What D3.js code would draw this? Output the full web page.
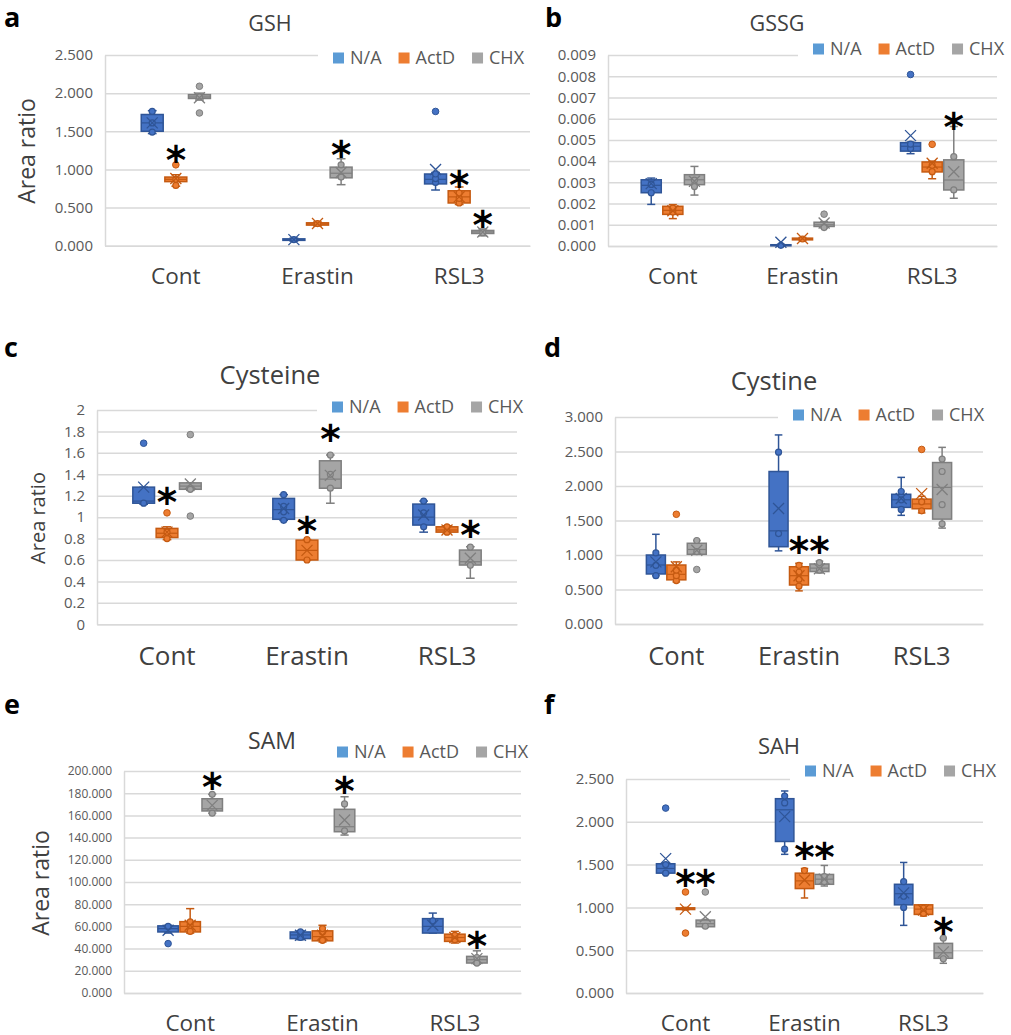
<!DOCTYPE html>
<html><head><meta charset="utf-8">
<script src="https://cdn.jsdelivr.net/npm/d3@7"></script>
<style>body{margin:0;background:#fff} svg{display:block}</style>
</head><body><svg id="chart" width="1011" height="1035"></svg>
<script>
const categories = ["Cont", "Erastin", "RSL3"];
const seriesNames = ["N/A", "ActD", "CHX"];
const yAxisTitle = "Area ratio";

// Box rows: [category index, series index, whisker low, Q1, median, Q3, whisker high, mean]
// Point rows: [category index, series index, value]
const gshStats = [
  [0,0,1.47,1.50,1.61,1.72,1.77,1.61],[0,1,0.78,0.84,0.87,0.90,0.93,0.88],[0,2,1.91,1.93,1.95,1.98,2.00,1.94],
  [1,0,0.06,0.07,0.08,0.09,0.10,0.08],[1,1,0.26,0.27,0.285,0.30,0.31,0.29],[1,2,0.80,0.89,0.95,1.03,1.14,0.96],
  [2,0,0.73,0.81,0.87,0.94,0.96,1.00],[2,1,0.54,0.56,0.64,0.72,0.77,0.64],[2,2,0.13,0.16,0.18,0.20,0.22,0.18]];
const gshInner = [[0,0,1.49],[0,0,1.61],[0,0,1.76],[0,1,0.79],[0,1,0.87],[0,2,1.95],[1,0,0.08],[1,1,0.29],
  [1,2,0.90],[1,2,1.06],[2,0,0.83],[2,0,0.88],[2,0,0.94],[2,1,0.56],[2,1,0.62],[2,1,0.69],[2,2,0.17]];
const gshOutliers = [[0,1,1.06],[0,2,2.09],[0,2,1.74],[2,0,1.76]];
const gshStars = [[0,1,1.23],[1,2,1.29],[2,1,0.90],[2,2,0.37]];
const gshTicks = [0, 0.5, 1, 1.5, 2, 2.5];
const gshTickLabels = ["0.000","0.500","1.000","1.500","2.000","2.500"];

const gssgStats = [
  [0,0,0.00196,0.00251,0.00286,0.00312,0.00320,0.00294],[0,1,0.00129,0.00149,0.00168,0.00187,0.00195,0.00166],[0,2,0.00240,0.00289,0.00312,0.00336,0.00375,0.00305],
  [1,0,0.00000,0.00001,0.00003,0.00006,0.00008,0.00018],[1,1,0.00026,0.00029,0.00033,0.00037,0.00040,0.00035],[1,2,0.00085,0.00092,0.00100,0.00112,0.00115,0.00108],
  [2,0,0.00435,0.00447,0.00470,0.00487,0.00490,0.00520],[2,1,0.00317,0.00349,0.00372,0.00396,0.00400,0.00390],[2,2,0.00225,0.00264,0.00311,0.00406,0.00563,0.00350]];
const gssgInner = [[0,0,0.00251],[0,0,0.00290],[0,1,0.00160],[0,1,0.00178],[0,2,0.00280],[0,2,0.00310],[1,0,0.00003],
  [1,1,0.00033],[1,2,0.00087],[2,0,0.00460],[2,0,0.00480],[2,1,0.00350],[2,1,0.00380],[2,2,0.00264],[2,2,0.00421]];
const gssgOutliers = [[1,2,0.00150],[2,0,0.00808],[2,1,0.00479]];
const gssgStars = [[2,2,0.0060]];
const gssgTicks = [0,0.001,0.002,0.003,0.004,0.005,0.006,0.007,0.008,0.009];
const gssgTickLabels = ["0.000","0.001","0.002","0.003","0.004","0.005","0.006","0.007","0.008","0.009"];

const cysteineStats = [
  [0,0,1.12,1.13,1.15,1.28,1.28,1.28],[0,1,0.79,0.81,0.85,0.895,0.91,0.86],[0,2,1.25,1.26,1.29,1.32,1.32,1.31],
  [1,0,0.97,0.98,1.07,1.175,1.21,1.08],[1,1,0.60,0.60,0.69,0.786,0.79,0.69],[1,2,1.13,1.27,1.355,1.526,1.58,1.39],
  [2,0,0.86,0.926,1.00,1.122,1.15,1.02],[2,1,0.85,0.86,0.88,0.91,0.92,0.88],[2,2,0.43,0.553,0.584,0.693,0.724,0.616]];
const cysteineInner = [[0,0,1.13],[0,1,0.80],[0,1,0.86],[0,2,1.26],[1,0,0.97],[1,0,1.05],[1,0,1.10],[1,0,1.21],
  [1,1,0.60],[1,1,0.79],[1,2,1.27],[1,2,1.40],[1,2,1.58],[2,0,0.91],[2,0,1.04],[2,0,1.15],[2,1,0.86],[2,1,0.91],[2,2,0.55],[2,2,0.72]];
const cysteineOutliers = [[0,0,1.69],[0,1,1.04],[0,2,1.77],[0,2,1.01]];
const cysteineStars = [[0,1,1.21],[1,1,0.94],[1,2,1.80],[2,2,0.91]];
const cysteineTicks = [0,0.2,0.4,0.6,0.8,1,1.2,1.4,1.6,1.8,2];
const cysteineTickLabels = ["0","0.2","0.4","0.6","0.8","1","1.2","1.4","1.6","1.8","2"];

const cystineStats = [
  [0,0,0.70,0.725,0.855,1.00,1.30,0.90],[0,1,0.61,0.64,0.72,0.855,0.90,0.83],[0,2,1.01,1.01,1.08,1.17,1.21,1.07],
  [1,0,1.06,1.12,1.35,2.21,2.74,1.675],[1,1,0.48,0.565,0.70,0.83,0.88,0.70],[1,2,0.74,0.76,0.81,0.87,0.91,0.80],
  [2,0,1.575,1.69,1.80,1.88,2.125,1.82],[2,1,1.61,1.67,1.74,1.81,1.85,1.89],[2,2,1.39,1.52,1.98,2.34,2.56,1.95]];
const cystineInner = [[0,0,0.70],[0,0,0.85],[0,0,1.03],[0,1,0.63],[0,1,0.70],[0,1,0.78],[0,2,1.05],[0,2,1.21],
  [1,0,1.31],[1,0,2.49],[1,1,0.55],[1,1,0.65],[1,1,0.75],[1,1,0.85],[1,2,0.78],[1,2,0.89],[2,0,1.66],[2,0,1.80],[2,0,1.92],
  [2,1,1.64],[2,1,1.77],[2,2,1.45],[2,2,1.73],[2,2,2.21],[2,2,2.39]];
const cystineOutliers = [[0,1,1.59],[0,2,0.79],[2,1,2.53]];
const cystineStars = [[1,1,1.17],[1,2,1.17]];
const cystineTicks = [0,0.5,1,1.5,2,2.5,3];
const cystineTickLabels = ["0.000","0.500","1.000","1.500","2.000","2.500","3.000"];

const samStats = [
  [0,0,54,55,58,60.5,61,56.5],[0,1,54,55,60,64.3,76,61],[0,2,162,164,166,175,179,169],
  [1,0,48,49,52.3,55,56,52],[1,1,46,47,50.8,56,61,52],[1,2,142.3,145.3,149.8,165.5,176.8,155.9],
  [2,0,54,54,60,67,72,61],[2,1,45,46.5,50,53,55.5,50],[2,2,26,27,30,33,38,31]];
const samInner = [[0,0,60],[0,1,55.5],[0,1,61],[0,1,64],[0,2,162],[0,2,179],[1,0,50],[1,0,55],[1,1,47.5],[1,1,55],[1,1,58],
  [1,2,146],[1,2,170.3],[2,0,65],[2,1,48],[2,1,52],[2,2,27],[2,2,32]];
const samOutliers = [[0,0,44.5]];
const samStars = [[0,2,193],[1,2,189],[2,2,49.3]];
const samTicks = [0,20,40,60,80,100,120,140,160,180,200];
const samTickLabels = ["0.000","20.000","40.000","60.000","80.000","100.000","120.000","140.000","160.000","180.000","200.000"];

const sahStats = [
  [0,0,1.39,1.40,1.455,1.51,1.52,1.57],[0,1,0.97,0.975,0.985,0.995,1.00,0.98],[0,2,0.77,0.774,0.81,0.852,0.86,0.89],
  [1,0,1.62,1.77,2.14,2.27,2.36,2.06],[1,1,1.11,1.22,1.31,1.40,1.455,1.32],[1,2,1.25,1.27,1.33,1.385,1.49,1.33],
  [2,0,0.79,1.03,1.16,1.27,1.525,1.17],[2,1,0.90,0.918,0.98,1.03,1.03,0.97],[2,2,0.347,0.405,0.47,0.58,0.64,0.48]];
const sahInner = [[0,0,1.40],[0,0,1.50],[0,2,0.78],[1,0,1.68],[1,0,2.22],[1,0,2.30],[1,1,1.43],[1,2,1.30],[1,2,1.36],
  [2,0,1.00],[2,0,1.13],[2,0,1.30],[2,1,0.93],[2,1,0.99],[2,2,0.40],[2,2,0.64]];
const sahOutliers = [[0,0,2.16],[0,1,1.18],[0,1,0.70],[0,2,1.18]];
const sahStars = [[0,1,1.36],[0,2,1.36],[1,1,1.68],[1,2,1.68],[2,2,0.81]];
const sahTicks = [0,0.5,1,1.5,2,2.5];
const sahTickLabels = ["0.000","0.500","1.000","1.500","2.000","2.500"];

// ---------- styling / layout ----------
const fillColors = {"N/A":"#4472C4","ActD":"#ED7D31","CHX":"#A5A5A5"};
const strokeColors = {"N/A":"#2F5597","ActD":"#C55A11","CHX":"#7F7F7F"};
const legendColors = {"N/A":"#5B9BD5","ActD":"#ED7D31","CHX":"#A5A5A5"};
const FONT = "'Open Sans', 'DejaVu Sans', sans-serif";

const panels = [
  {letter:"a", title:"GSH", stats:gshStats, inner:gshInner, out:gshOutliers, stars:gshStars, ticks:gshTicks, labels:gshTickLabels,
   domain:[0,2.5], x0:105, x1:530, yb:245.7, yt:55, tickFs:15, titlePos:[270,31,21.5], letterPos:[4,27], catY:284, catFs:22.5,
   yTitle:[35,151,23], legend:[333,58]},
  {letter:"b", title:"GSSG", stats:gssgStats, inner:gssgInner, out:gssgOutliers, stars:gssgStars, ticks:gssgTicks, labels:gssgTickLabels,
   domain:[0,0.009], x0:608, x1:997, yb:246, yt:55, tickFs:15, titlePos:[777,31,21.5], letterPos:[545,27], catY:284, catFs:22.5,
   yTitle:null, legend:[813,49]},
  {letter:"c", title:"Cysteine", stats:cysteineStats, inner:cysteineInner, out:cysteineOutliers, stars:cysteineStars, ticks:cysteineTicks, labels:cysteineTickLabels,
   domain:[0,2], x0:97, x1:517, yb:624.3, yt:410, tickFs:15, titlePos:[270,384,25.5], letterPos:[4,357], catY:665, catFs:26,
   yTitle:[45,518,20], legend:[332,407]},
  {letter:"d", title:"Cystine", stats:cystineStats, inner:cystineInner, out:cystineOutliers, stars:cystineStars, ticks:cystineTicks, labels:cystineTickLabels,
   domain:[0,3], x0:615, x1:983, yb:624, yt:417, tickFs:15, titlePos:[774,390,25.5], letterPos:[544,357], catY:665, catFs:25.5,
   yTitle:null, legend:[793,415]},
  {letter:"e", title:"SAM", stats:samStats, inner:samInner, out:samOutliers, stars:samStars, ticks:samTicks, labels:samTickLabels,
   domain:[0,200], x0:124, x1:521, yb:993, yt:771, tickFs:12, titlePos:[272,749,23], letterPos:[4,714], catY:1031, catFs:22.5,
   yTitle:[49,883,23], legend:[337,752]},
  {letter:"f", title:"SAH", stats:sahStats, inner:sahInner, out:sahOutliers, stars:sahStars, ticks:sahTicks, labels:sahTickLabels,
   domain:[0,2.5], x0:626, x1:983, yb:993, yt:779, tickFs:15, titlePos:[779,754,22], letterPos:[544,714], catY:1031, catFs:22.5,
   yTitle:null, legend:[805,771]}
];

const svg = d3.select("#chart");
svg.append("rect").attr("width",1011).attr("height",1035).attr("fill","#fff");

function drawPanel(p) {
  const g = svg.append("g");
  const y = d3.scaleLinear().domain(p.domain).range([p.yb, p.yt]);
  const x = d3.scaleBand().domain(categories).range([p.x0, p.x1]);
  const xs = d3.scaleBand().domain(seriesNames).range([-x.bandwidth()/4, x.bandwidth()/4]);
  const cx = (ci, si) => x(categories[ci]) + x.bandwidth()/2 + xs(seriesNames[si]) + xs.bandwidth()/2;
  const bw = xs.bandwidth() * 0.93;
  const capW = bw * 0.4;

  // grid + y axis
  const ya = g.append("g").attr("transform", `translate(${p.x0},0)`)
    .call(d3.axisLeft(y).tickValues(p.ticks).tickSizeInner(-(p.x1 - p.x0)).tickSizeOuter(0).tickPadding(12)
      .tickFormat((d, i) => p.labels[i]));
  ya.select(".domain").attr("stroke", "#d9d9d9").attr("stroke-width", 1.5);
  ya.selectAll(".tick line").attr("stroke", "#d9d9d9").attr("stroke-width", 1.5);
  ya.selectAll(".tick text").attr("fill", "#595959").style("font-family", FONT).style("font-size", p.tickFs + "px");

  // x axis
  const xa = g.append("g").attr("transform", `translate(0,${p.yb})`)
    .call(d3.axisBottom(x).tickSize(0));
  xa.select(".domain").attr("stroke", "#d9d9d9").attr("stroke-width", 1.5);
  xa.selectAll(".tick text").attr("dy", null).attr("y", p.catY - p.yb)
    .attr("fill", "#404040").style("font-family", FONT).style("font-size", p.catFs + "px");

  // boxes
  const boxes = g.append("g").selectAll("g").data(p.stats).join("g");
  boxes.each(function(d) {
    const s = seriesNames[d[1]];
    const c = cx(d[0], d[1]);
    const el = d3.select(this);
    const st = strokeColors[s];
    el.append("line").attr("x1", c).attr("x2", c).attr("y1", y(d[5])).attr("y2", y(d[6])).attr("stroke", st).attr("stroke-width", 1.5);
    el.append("line").attr("x1", c).attr("x2", c).attr("y1", y(d[3])).attr("y2", y(d[2])).attr("stroke", st).attr("stroke-width", 1.5);
    el.append("line").attr("x1", c - capW/2).attr("x2", c + capW/2).attr("y1", y(d[6])).attr("y2", y(d[6])).attr("stroke", st).attr("stroke-width", 1.5);
    el.append("line").attr("x1", c - capW/2).attr("x2", c + capW/2).attr("y1", y(d[2])).attr("y2", y(d[2])).attr("stroke", st).attr("stroke-width", 1.5);
    el.append("rect").attr("x", c - bw/2).attr("width", bw)
      .attr("y", y(d[5])).attr("height", Math.max(1, y(d[3]) - y(d[5])))
      .attr("fill", fillColors[s]).attr("stroke", st).attr("stroke-width", 1.5);
    el.append("line").attr("x1", c - bw/2).attr("x2", c + bw/2).attr("y1", y(d[4])).attr("y2", y(d[4])).attr("stroke", st).attr("stroke-width", 1.2);
  });

  // inner points
  g.append("g").selectAll("circle").data(p.inner).join("circle")
    .attr("cx", d => cx(d[0], d[1])).attr("cy", d => y(d[2])).attr("r", 3)
    .attr("fill", d => fillColors[seriesNames[d[1]]]).attr("stroke", d => strokeColors[seriesNames[d[1]]]).attr("stroke-width", 1.2);

  // mean markers (X)
  g.append("g").selectAll("path").data(p.stats).join("path")
    .attr("d", d => { const c = cx(d[0], d[1]), m = y(d[7]), r = 5.5;
      return `M${c-r},${m-r}L${c+r},${m+r}M${c-r},${m+r}L${c+r},${m-r}`; })
    .attr("stroke", d => strokeColors[seriesNames[d[1]]]).attr("stroke-width", 1.3).attr("fill", "none");

  // outliers
  g.append("g").selectAll("circle").data(p.out).join("circle")
    .attr("cx", d => cx(d[0], d[1])).attr("cy", d => y(d[2])).attr("r", 3.3)
    .attr("fill", d => fillColors[seriesNames[d[1]]]).attr("stroke", d => strokeColors[seriesNames[d[1]]]).attr("stroke-width", 1);

  // significance stars
  const starFs = 39;
  g.append("g").selectAll("text").data(p.stars).join("text")
    .attr("x", d => cx(d[0], d[1])).attr("y", d => y(d[2]) + starFs * 0.56)
    .attr("text-anchor", "middle").attr("fill", "#000")
    .style("font-family", "'DejaVu Sans', sans-serif").style("font-weight", "bold").style("font-size", starFs + "px")
    .text("*");

  // legend
  const lg = g.append("g").attr("transform", `translate(${p.legend[0]},${p.legend[1]})`);
  const bg = lg.append("rect").attr("fill", "#fff");
  let xpos = 0;
  seriesNames.forEach(s => {
    lg.append("rect").attr("x", xpos).attr("y", -5.5).attr("width", 11).attr("height", 11).attr("fill", legendColors[s]);
    const t = lg.append("text").attr("x", xpos + 17).attr("y", 0).attr("dy", "0.35em")
      .attr("fill", "#595959").style("font-family", FONT).style("font-size", "18px").text(s);
    xpos += 17 + t.node().getComputedTextLength() + 17;
  });
  bg.attr("x", -15).attr("y", -12).attr("width", xpos + 10).attr("height", 24);

  // title
  g.append("text").attr("x", p.titlePos[0]).attr("y", p.titlePos[1]).attr("text-anchor", "middle")
    .attr("fill", "#404040").style("font-family", FONT).style("font-size", p.titlePos[2] + "px").text(p.title);

  // y axis title
  if (p.yTitle) {
    g.append("text").attr("transform", `translate(${p.yTitle[0]},${p.yTitle[1]}) rotate(-90)`)
      .attr("text-anchor", "middle").attr("fill", "#404040")
      .style("font-family", FONT).style("font-size", p.yTitle[2] + "px").text(yAxisTitle);
  }

  // panel letter
  g.append("text").attr("x", p.letterPos[0]).attr("y", p.letterPos[1]).attr("fill", "#000")
    .style("font-family", FONT).style("font-weight", "bold").style("font-size", "27px").text(p.letter);
}

panels.forEach(drawPanel);
</script>
</body></html>
